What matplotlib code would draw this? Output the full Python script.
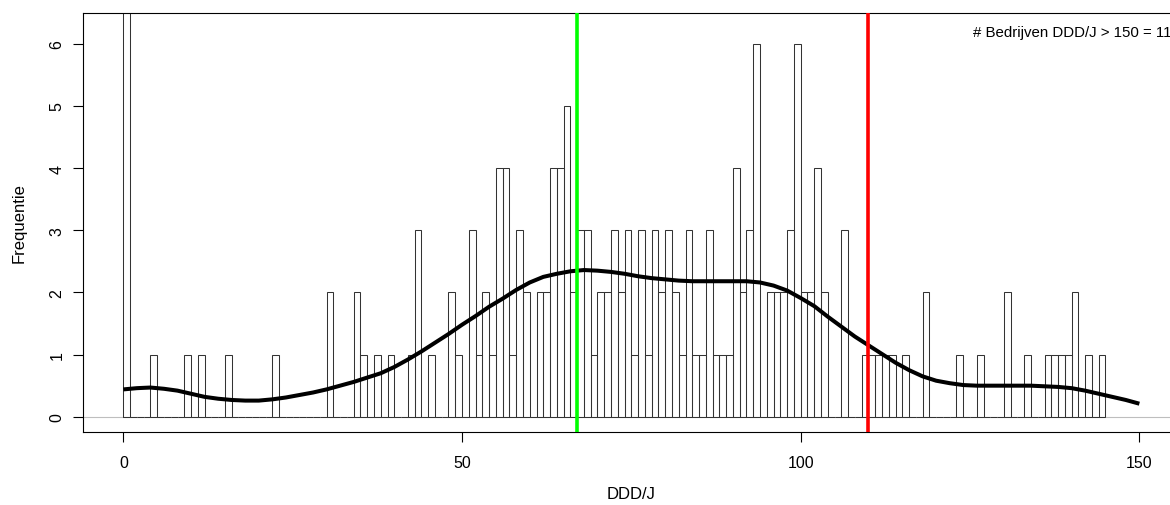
import matplotlib
matplotlib.use("Agg")
import matplotlib.pyplot as plt
import numpy as np

plt.rcParams['font.family'] = ['Liberation Sans', 'DejaVu Sans']

# histogram counts per 1-wide bin (bin i covers [i, i+1))
bin_start = list(range(0, 145))
counts = [0] * 145
nonzero = {
    0: 7, 4: 1, 9: 1, 11: 1, 15: 1, 22: 1, 30: 2, 34: 2, 35: 1, 37: 1, 39: 1,
    42: 1, 43: 3, 45: 1, 48: 2, 49: 1, 51: 3, 52: 1, 53: 2, 54: 1, 55: 4,
    56: 4, 57: 1, 58: 3, 59: 2, 61: 2, 62: 2, 63: 4, 64: 4, 65: 5, 66: 2,
    67: 3, 68: 3, 69: 1, 70: 2, 71: 2, 72: 3, 73: 2, 74: 3, 75: 1, 76: 3,
    77: 1, 78: 3, 79: 2, 80: 3, 81: 2, 82: 1, 83: 3, 84: 1, 85: 1, 86: 3,
    87: 1, 88: 1, 89: 1, 90: 4, 91: 2, 92: 3, 93: 6, 95: 2, 96: 2, 97: 2,
    98: 3, 99: 6, 100: 2, 101: 2, 102: 4, 103: 2, 106: 3, 109: 1, 110: 1,
    111: 1, 112: 1, 113: 1, 115: 1, 118: 2, 123: 1, 126: 1, 130: 2, 133: 1,
    136: 1, 137: 1, 138: 1, 139: 1, 140: 2, 142: 1, 144: 1,
}
for k, v in nonzero.items():
    counts[k] = v

# scaled density curve
dens_x = [0, 2, 4, 6, 8, 10, 12, 14, 16, 18, 20, 22, 24, 26, 28, 30, 32, 34, 36, 38,
          40, 42, 44, 46, 48, 50, 52, 54, 56, 58, 60, 62, 64, 66, 68, 70, 72, 74, 76, 78,
          80, 82, 84, 86, 88, 90, 92, 94, 96, 98, 100, 102, 104, 106, 108, 110, 112, 114,
          116, 118, 120, 122, 124, 126, 128, 130, 132, 134, 136, 138, 140, 142, 144, 146,
          148, 150]
dens_y = [0.44, 0.46, 0.47, 0.45, 0.42, 0.37, 0.32, 0.29, 0.27, 0.26,
          0.26, 0.28, 0.31, 0.35, 0.39, 0.44, 0.50, 0.56, 0.63, 0.70,
          0.80, 0.92, 1.05, 1.19, 1.33, 1.48, 1.62, 1.77, 1.90, 2.04,
          2.16, 2.25, 2.30, 2.34, 2.36, 2.35, 2.33, 2.30, 2.26, 2.23,
          2.21, 2.19, 2.18, 2.18, 2.18, 2.18, 2.18, 2.16, 2.11, 2.03,
          1.91, 1.78, 1.61, 1.45, 1.29, 1.15, 1.01, 0.87, 0.75, 0.65,
          0.58, 0.54, 0.51, 0.50, 0.50, 0.50, 0.50, 0.50, 0.49, 0.48,
          0.46, 0.42, 0.37, 0.32, 0.27, 0.21]

green_line = 67
red_line = 110
n_above_150 = 11
x_ticks = [0, 50, 100, 150]
y_ticks = [0, 1, 2, 3, 4, 5, 6]

W, H = 1170, 506
fig = plt.figure(figsize=(W / 100, H / 100), dpi=100)
ax = fig.add_axes([82.7 / W, (H - 433.3) / H, (1180 - 82.7) / W, (433.3 - 14.3) / H])

ax.axhline(0, color='#bebebe', lw=0.8, zorder=1)
ax.bar(bin_start, counts, width=1, align='edge', fill=False,
       edgecolor='#333333', lw=0.75, zorder=2)
ax.plot(dens_x, dens_y, color='black', lw=2.9, solid_capstyle='butt', zorder=3)
ax.axvline(green_line, color='#00ff00', lw=2.6, zorder=4)
ax.axvline(red_line, color='#ff0000', lw=2.6, zorder=4)

ax.text(125.4, 6.19, '# Bedrijven DDD/J > 150 = %d' % n_above_150,
        ha='left', va='center', fontsize=10.8)

ax.set_xlim(-6, 156)
ax.set_ylim(-0.25, 6.49)
ax.set_xticks(x_ticks)
ax.set_xticklabels([str(t) for t in x_ticks])
ax.set_yticks(y_ticks)
ax.set_yticklabels([str(t) for t in y_ticks], rotation=90, va='center', ha='right')
ax.tick_params(direction='out', length=7.2, width=0.8, labelsize=11.5)
ax.tick_params(axis='x', pad=9)
ax.tick_params(axis='y', pad=6)
for s in ax.spines.values():
    s.set_linewidth(0.8)
ax.spines['right'].set_visible(False)

fig.text(19 / W, 1 - 223 / H, 'Frequentie', rotation=90, ha='center', va='center', fontsize=12)
fig.text(631 / W, 1 - 495 / H, 'DDD/J', ha='center', va='center', fontsize=12)

fig.savefig('out.png', dpi=100)
